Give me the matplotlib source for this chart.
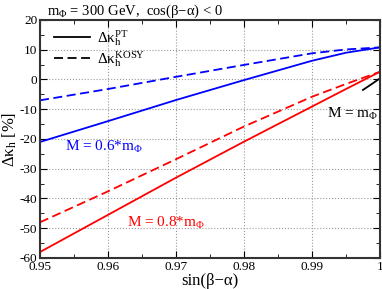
import matplotlib
matplotlib.use("Agg")
import matplotlib.pyplot as plt
from matplotlib.lines import Line2D
from matplotlib.ticker import MultipleLocator, FixedLocator

plt.rcParams["font.family"] = "Liberation Serif"
plt.rcParams["mathtext.fontset"] = "custom"
plt.rcParams["mathtext.rm"] = "Liberation Serif"
plt.rcParams["mathtext.it"] = "Liberation Serif"
plt.rcParams["mathtext.default"] = "regular"
plt.rcParams["axes.unicode_minus"] = False

# data
sba = [0.95, 0.96, 0.97, 0.98, 0.99, 0.995, 1.0]
blue_pt = [-21.0, -14.0, -6.9, -0.2, 6.3, 9.0, 10.8]
blue_kosy = [-7.0, -3.2, 0.9, 4.9, 8.8, 10.1, 10.8]
red_pt = [-58.0, -45.5, -33.0, -20.9, -9.1, -3.2, 2.6]
red_kosy = [-48.0, -37.6, -26.8, -15.8, -5.8, -1.5, 2.6]
sba_m1 = [0.9975, 0.999, 1.0]
black_pt = [-3.5, -1.2, 0.4]

xticks = [0.95, 0.96, 0.97, 0.98, 0.99, 1.0]
xticklabels = ["0.95", "0.96", "0.97", "0.98", "0.99", "1"]

fig = plt.figure(figsize=(3.82, 2.89), dpi=100)
ax = fig.add_axes([0.1047, 0.1073, 0.89, 0.8235])

LW = 1.3
DASH = (0, (5, 2.5))
ax.plot(sba, blue_pt, color="blue", lw=LW)
ax.plot(sba, blue_kosy, color="blue", lw=LW, ls=DASH)
ax.plot(sba, red_pt, color="red", lw=LW)
ax.plot(sba, red_kosy, color="red", lw=LW, ls=DASH)
ax.plot(sba_m1, black_pt, color="black", lw=LW)

ax.set_xlim(0.95, 1.0)
ax.set_ylim(-60, 20)
ax.xaxis.set_major_locator(FixedLocator(xticks))
ax.set_xticklabels(xticklabels)
ax.xaxis.set_minor_locator(MultipleLocator(0.005))
ax.yaxis.set_major_locator(MultipleLocator(10))
ax.yaxis.set_minor_locator(MultipleLocator(5))
ax.tick_params(which="both", direction="in", top=True, right=True, labelsize=9.5, pad=2)
ax.tick_params(which="major", length=5)
ax.tick_params(which="minor", length=3)
ax.grid(True, which="major", color="#999999", ls=":", lw=0.8)
for s in ax.spines.values():
    s.set_linewidth(1.5)
    s.set_color("#333333")

ax.set_xlabel("sin(β−α)", fontsize=12, labelpad=0)
ax.set_ylabel(r"Δκ$_{h}$ [%]", fontsize=12, va="center")
ax.yaxis.set_label_coords(-0.088, 0.5)
ax.set_title(r"m$_{Φ}$ = 300 GeV,  cos(β−α) < 0", fontsize=10.5, loc="left", x=0.02, pad=4)

handles = [Line2D([], [], color="black", lw=LW),
           Line2D([], [], color="black", lw=LW, ls=DASH)]
labels = [r"Δκ$_{h}^{PT}$", r"Δκ$_{h}^{KOSY}$"]
ax.legend(handles, labels, loc="upper left", frameon=False, fontsize=11,
          handlelength=2.3, handletextpad=0.5, borderaxespad=0.1, labelspacing=0.1,
          bbox_to_anchor=(0.02, 1.0))

ax.text(0.9537, -24.0, r"M = 0.6*m$_{Φ}$", color="blue", fontsize=11)
ax.text(0.9628, -49.5, r"M = 0.8*m$_{Φ}$", color="red", fontsize=11)
ax.text(0.9922, -13.0, r"M = m$_{Φ}$", color="black", fontsize=11)

fig.savefig("out.png", dpi=100)
